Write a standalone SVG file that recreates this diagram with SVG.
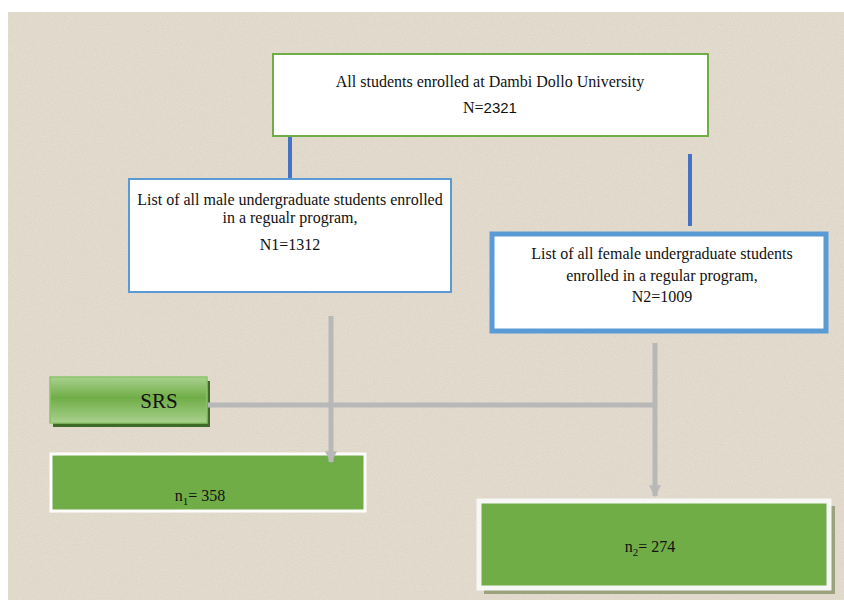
<svg xmlns="http://www.w3.org/2000/svg" width="844" height="602" viewBox="0 0 844 602">
<defs>
<style>
text{font-family:"Liberation Serif","Times New Roman",Times,serif;fill:#111;text-anchor:middle}
.c{font-family:"Liberation Sans",Arial,sans-serif}
.g{stroke:#B8B8B8;stroke-width:5;fill:none}
.b{stroke:#4472C4;stroke-width:4;fill:none}
</style>
<linearGradient id="srs" x1="0" y1="0" x2="0" y2="1">
<stop offset="0" stop-color="#A9D18E"/>
<stop offset="0.45" stop-color="#70AD47"/>
<stop offset="1" stop-color="#A9D18E"/>
</linearGradient>
<marker id="ar" viewBox="0 0 10 10" refX="9" refY="5" markerWidth="13" markerHeight="12" markerUnits="userSpaceOnUse" orient="auto">
<path d="M0,0 L10,5 L0,10 Z" fill="#B8B8B8"/>
</marker>
<filter id="tex" x="0" y="0" width="1" height="1">
<feTurbulence type="fractalNoise" baseFrequency="0.9" numOctaves="2" seed="3" result="n"/>
<feColorMatrix in="n" type="matrix" values="0 0 0 0 0.55  0 0 0 0 0.5  0 0 0 0 0.42  0 0 0 -1.6 0.95" result="d"/>
<feComposite in="d" in2="SourceGraphic" operator="in"/>
</filter>
</defs>
<rect x="0" y="0" width="844" height="602" fill="#ffffff"/>
<rect x="8" y="12" width="836" height="588" fill="#E3DBCE"/>
<rect x="8" y="12" width="836" height="588" fill="#E3DBCE" filter="url(#tex)" opacity="0.35"/>

<g id="top">
<rect x="273" y="54" width="435" height="82" fill="#ffffff" stroke="#70AD47" stroke-width="2"/>
<text x="490" y="87" font-size="16">All students enrolled at Dambi Dollo University</text>
<text x="490" y="113" font-size="16">N=<tspan class="c" font-size="15">2321</tspan></text>
</g>

<g id="male">
<rect x="129" y="179" width="322" height="113" fill="#ffffff" stroke="#5B9BD5" stroke-width="2"/>
<text x="290" y="205" font-size="16">List of all male undergraduate students enrolled</text>
<text x="290" y="223" font-size="16">in a regualr program,</text>
<text x="290" y="250" font-size="16">N1=1312</text>
</g>

<g id="female">
<rect x="492" y="234" width="334" height="97" fill="#ffffff" stroke="#5B9BD5" stroke-width="5"/>
<text x="662" y="259" font-size="16">List of all female undergraduate students</text>
<text x="662" y="281" font-size="16">enrolled in a regular program,</text>
<text x="662" y="302" font-size="16">N2=1009</text>
</g>

<g id="srs">
<rect x="53" y="381" width="157" height="46" fill="#3E6B26"/>
<rect x="50" y="377" width="157" height="46" fill="url(#srs)" stroke="#8CC46B" stroke-width="1.5"/>
<text x="159" y="408" font-size="21">SRS</text>
</g>

<g id="n1">
<rect x="51" y="454" width="314" height="57" fill="#70AD47" stroke="#ffffff" stroke-width="3"/>
<text x="200" y="501" font-size="16">n<tspan font-size="11" dy="4">1</tspan><tspan dy="-4">= 358</tspan></text>
</g>

<g id="n2">
<rect x="484" y="506" width="351" height="88" fill="#8A9468" opacity="0.8"/>
<rect x="479" y="501" width="350" height="87" fill="#70AD47" stroke="#F7F7F5" stroke-width="5"/>
<text x="650" y="552" font-size="16">n<tspan font-size="11" dy="4">2</tspan><tspan dy="-4">= 274</tspan></text>
</g>

<g id="connectors">
<line class="b" x1="290" y1="137" x2="290" y2="178"/>
<line class="b" x1="690" y1="154" x2="690" y2="226"/>
<line class="g" x1="208" y1="405" x2="655" y2="405"/>
<line class="g" x1="331" y1="316" x2="331" y2="462" marker-end="url(#ar)"/>
<line class="g" x1="655" y1="343" x2="655" y2="496" marker-end="url(#ar)"/>
</g>
</svg>
